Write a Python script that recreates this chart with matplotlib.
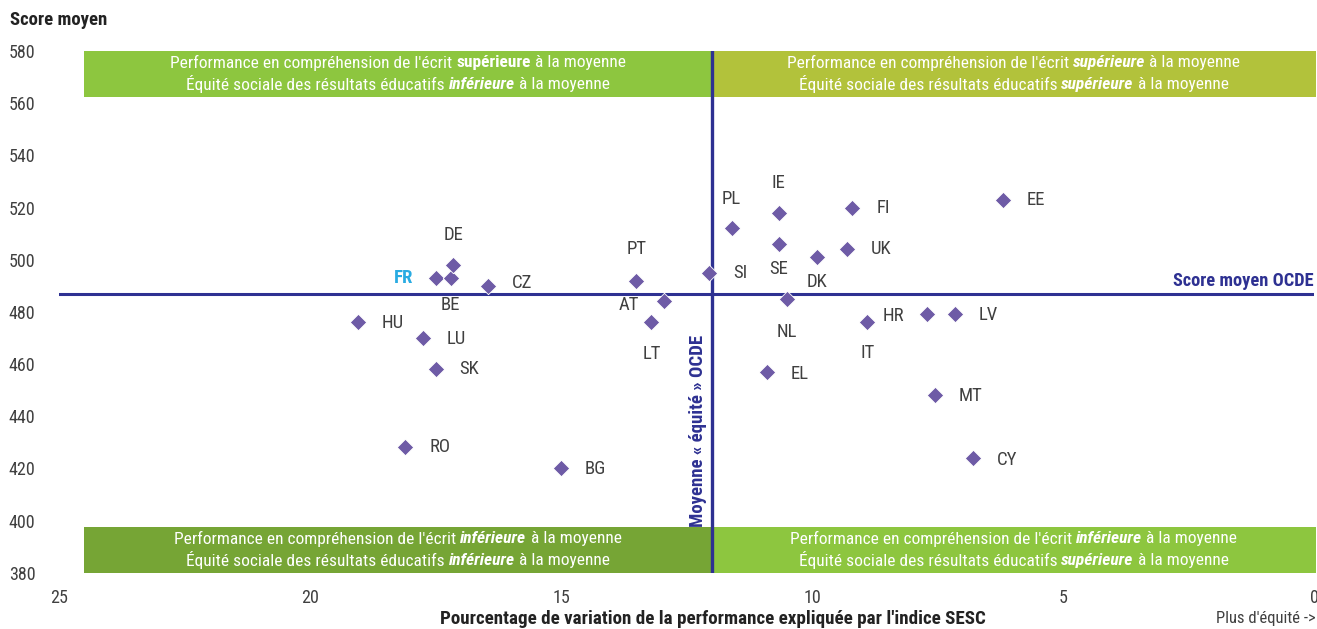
import matplotlib
matplotlib.use("Agg")
import matplotlib.pyplot as plt
from matplotlib import font_manager as fm
from matplotlib.patches import Rectangle

# ---------------- data ----------------
countries = ["EE", "FI", "IE", "PL", "SE", "UK", "DK", "SI", "NL", "IT", "HR", "LV",
             "EL", "MT", "CY", "BG", "RO", "SK", "LU", "HU", "FR", "BE", "DE", "CZ",
             "PT", "AT", "LT"]
equity = [6.2, 9.2, 10.66, 11.6, 10.66, 9.3, 9.9, 12.05, 10.5, 8.9, 7.7, 7.15,
          10.9, 7.55, 6.8, 15.0, 18.1, 17.5, 17.75, 19.05, 17.5, 17.2, 17.15, 16.45,
          13.5, 12.95, 13.2]
score = [523, 520, 518, 512, 506, 504, 501, 495, 485, 476, 479, 479,
         457, 448, 424, 420, 428, 458, 470, 476, 493, 493, 498, 490,
         492, 484, 476]
oecd_equity = 12.0
oecd_score = 487
x_ticks = [25, 20, 15, 10, 5, 0]
y_ticks = [380, 400, 420, 440, 460, 480, 500, 520, 540, 560, 580]
highlight = "FR"

# ---------------- style ----------------
avail = {f.name for f in fm.fontManager.ttflist}
fam = "DejaVu Sans"
for cand in ["Roboto Condensed", "Liberation Sans Narrow", "DejaVu Sans Condensed", "Liberation Sans"]:
    if cand in avail:
        fam = cand
        break
plt.rcParams["font.family"] = [fam, "DejaVu Sans"]

DARK = "#2E3192"
PURPLE = "#6E5BA6"
TXT = "#404040"
C_TL = "#8DC63F"
C_TR = "#B2C23B"
C_BL = "#76A535"
C_BR = "#8DC63F"

# label placement (direction, dx px, dy px) relative to marker
place = {
    "EE": ("r", 24, 0), "FI": ("r", 24, 0), "IE": ("c", 0, -30), "PL": ("c", 0, -29),
    "SE": ("c", 0, 25), "UK": ("r", 24, 0), "DK": ("c", 0, 25), "SI": ("r", 24, 0),
    "NL": ("c", 0, 33), "IT": ("c", 0, 31), "HR": ("l", -23, 2), "LV": ("r", 24, 1),
    "EL": ("r", 24, 2), "MT": ("r", 24, 1), "CY": ("r", 24, 2), "BG": ("r", 24, 1),
    "RO": ("r", 24, 0), "SK": ("r", 24, 0), "LU": ("r", 24, 1), "HU": ("r", 24, 1),
    "FR": ("l", -22, 0), "BE": ("c", 0, 27), "DE": ("c", 0, -30), "CZ": ("r", 24, -3),
    "PT": ("c", 0, -32), "AT": ("l", -25, 4), "LT": ("c", 0, 32),
}

W, H = 1317, 629
fig = plt.figure(figsize=(W / 100, H / 100), dpi=100)
ax = fig.add_axes([59 / W, 1 - 572.7 / H, (1314 - 59) / W, (572.7 - 51) / H])
ax.set_xlim(25, 0)
ax.set_ylim(380, 580)
for s in ax.spines.values():
    s.set_visible(False)
ax.set_xticks(x_ticks)
ax.set_yticks(y_ticks)
ax.tick_params(length=0, labelsize=13, colors=TXT)
ax.tick_params(axis="x", pad=12)
ax.tick_params(axis="y", pad=17)

# quadrant boxes
box_top_lo, box_bot_hi = 562.5, 397.5
xl = 24.5
xr = -0.03
boxes = [
    (xl, oecd_equity, box_top_lo, 580, C_TL,
     ["Performance en compréhension de l'écrit ", ("supérieure", "normal"), " à la moyenne"],
     ["Équité sociale des résultats éducatifs ", ("inférieure", "italic"), " à la moyenne"]),
    (oecd_equity, xr, box_top_lo, 580, C_TR,
     ["Performance en compréhension de l'écrit ", ("supérieure", "italic"), " à la moyenne"],
     ["Équité sociale des résultats éducatifs ", ("supérieure", "italic"), " à la moyenne"]),
    (xl, oecd_equity, 380, box_bot_hi, C_BL,
     ["Performance en compréhension de l'écrit ", ("inférieure", "italic"), " à la moyenne"],
     ["Équité sociale des résultats éducatifs ", ("inférieure", "italic"), " à la moyenne"]),
    (oecd_equity, xr, 380, box_bot_hi, C_BR,
     ["Performance en compréhension de l'écrit ", ("inférieure", "italic"), " à la moyenne"],
     ["Équité sociale des résultats éducatifs ", ("supérieure", "italic"), " à la moyenne"]),
]

fig.canvas.draw()
renderer = fig.canvas.get_renderer()
BOXFS = 12.5

def draw_line(xc, y, parts):
    texts = []
    for p in parts:
        if isinstance(p, tuple):
            t = ax.text(0, 0, p[0], fontsize=BOXFS, color="white", fontweight="bold",
                        fontstyle=p[1], va="center", ha="left")
        else:
            t = ax.text(0, 0, p, fontsize=BOXFS, color="white", va="center", ha="left")
        texts.append(t)
    widths = [t.get_window_extent(renderer).width for t in texts]
    total = sum(widths)
    cx_px = ax.transData.transform((xc, y))
    x0 = cx_px[0] - total / 2
    inv = ax.transData.inverted()
    for t, w in zip(texts, widths):
        t.set_position(inv.transform((x0, cx_px[1])))
        x0 += w

for x0, x1, y0, y1, col, l1, l2 in boxes:
    ax.add_patch(Rectangle((x0, y0), x1 - x0, y1 - y0, facecolor=col, edgecolor="none",
                           clip_on=False, zorder=1))
    xc = (x0 + x1) / 2
    draw_line(xc, y0 + (y1 - y0) * 0.74, l1)
    draw_line(xc, y0 + (y1 - y0) * 0.27, l2)

# OECD lines
ax.axhline(oecd_score, color=DARK, lw=2.2, zorder=2)
ax.axvline(oecd_equity, color=DARK, lw=2.4, zorder=3)
ax.text(0, oecd_score + 1.5, "Score moyen OCDE", ha="right", va="bottom", color=DARK,
        fontsize=13.2, fontweight="bold")
ax.text(oecd_equity + 0.1, box_bot_hi, "Moyenne « équité » OCDE", rotation=90,
        ha="right", va="bottom", color=DARK, fontsize=13.5, fontweight="bold")

# points
ax.scatter(equity, score, marker="D", s=70, color=PURPLE, edgecolor="white",
           linewidth=0.6, zorder=5)
for c, x, y in zip(countries, equity, score):
    d, dx, dy = place[c]
    ha = {"r": "left", "l": "right", "c": "center"}[d]
    if c == highlight:
        ax.annotate(c, (x, y), xytext=(dx * 0.72, -dy * 0.72), textcoords="offset points",
                    ha=ha, va="center", fontsize=13.5, fontweight="bold", color="#29ABE2")
    else:
        ax.annotate(c, (x, y), xytext=(dx * 0.72, -dy * 0.72), textcoords="offset points",
                    ha=ha, va="center", fontsize=13.5, color=TXT)

# titles
fig.text(10 / W, 1 - 20 / H, "Score moyen", ha="left", va="center", fontsize=13.5,
         fontweight="bold", color="#222222")
fig.text(713 / W, 1 - 619 / H,
         "Pourcentage de variation de la performance expliquée par l'indice SESC",
         ha="center", va="center", fontsize=13.7, fontweight="bold", color="#222222")
fig.text(1 - 1 / W, 1 - 619 / H, "Plus d'équité ->", ha="right", va="center",
         fontsize=12, color=TXT)

fig.savefig("out.png", dpi=100)
